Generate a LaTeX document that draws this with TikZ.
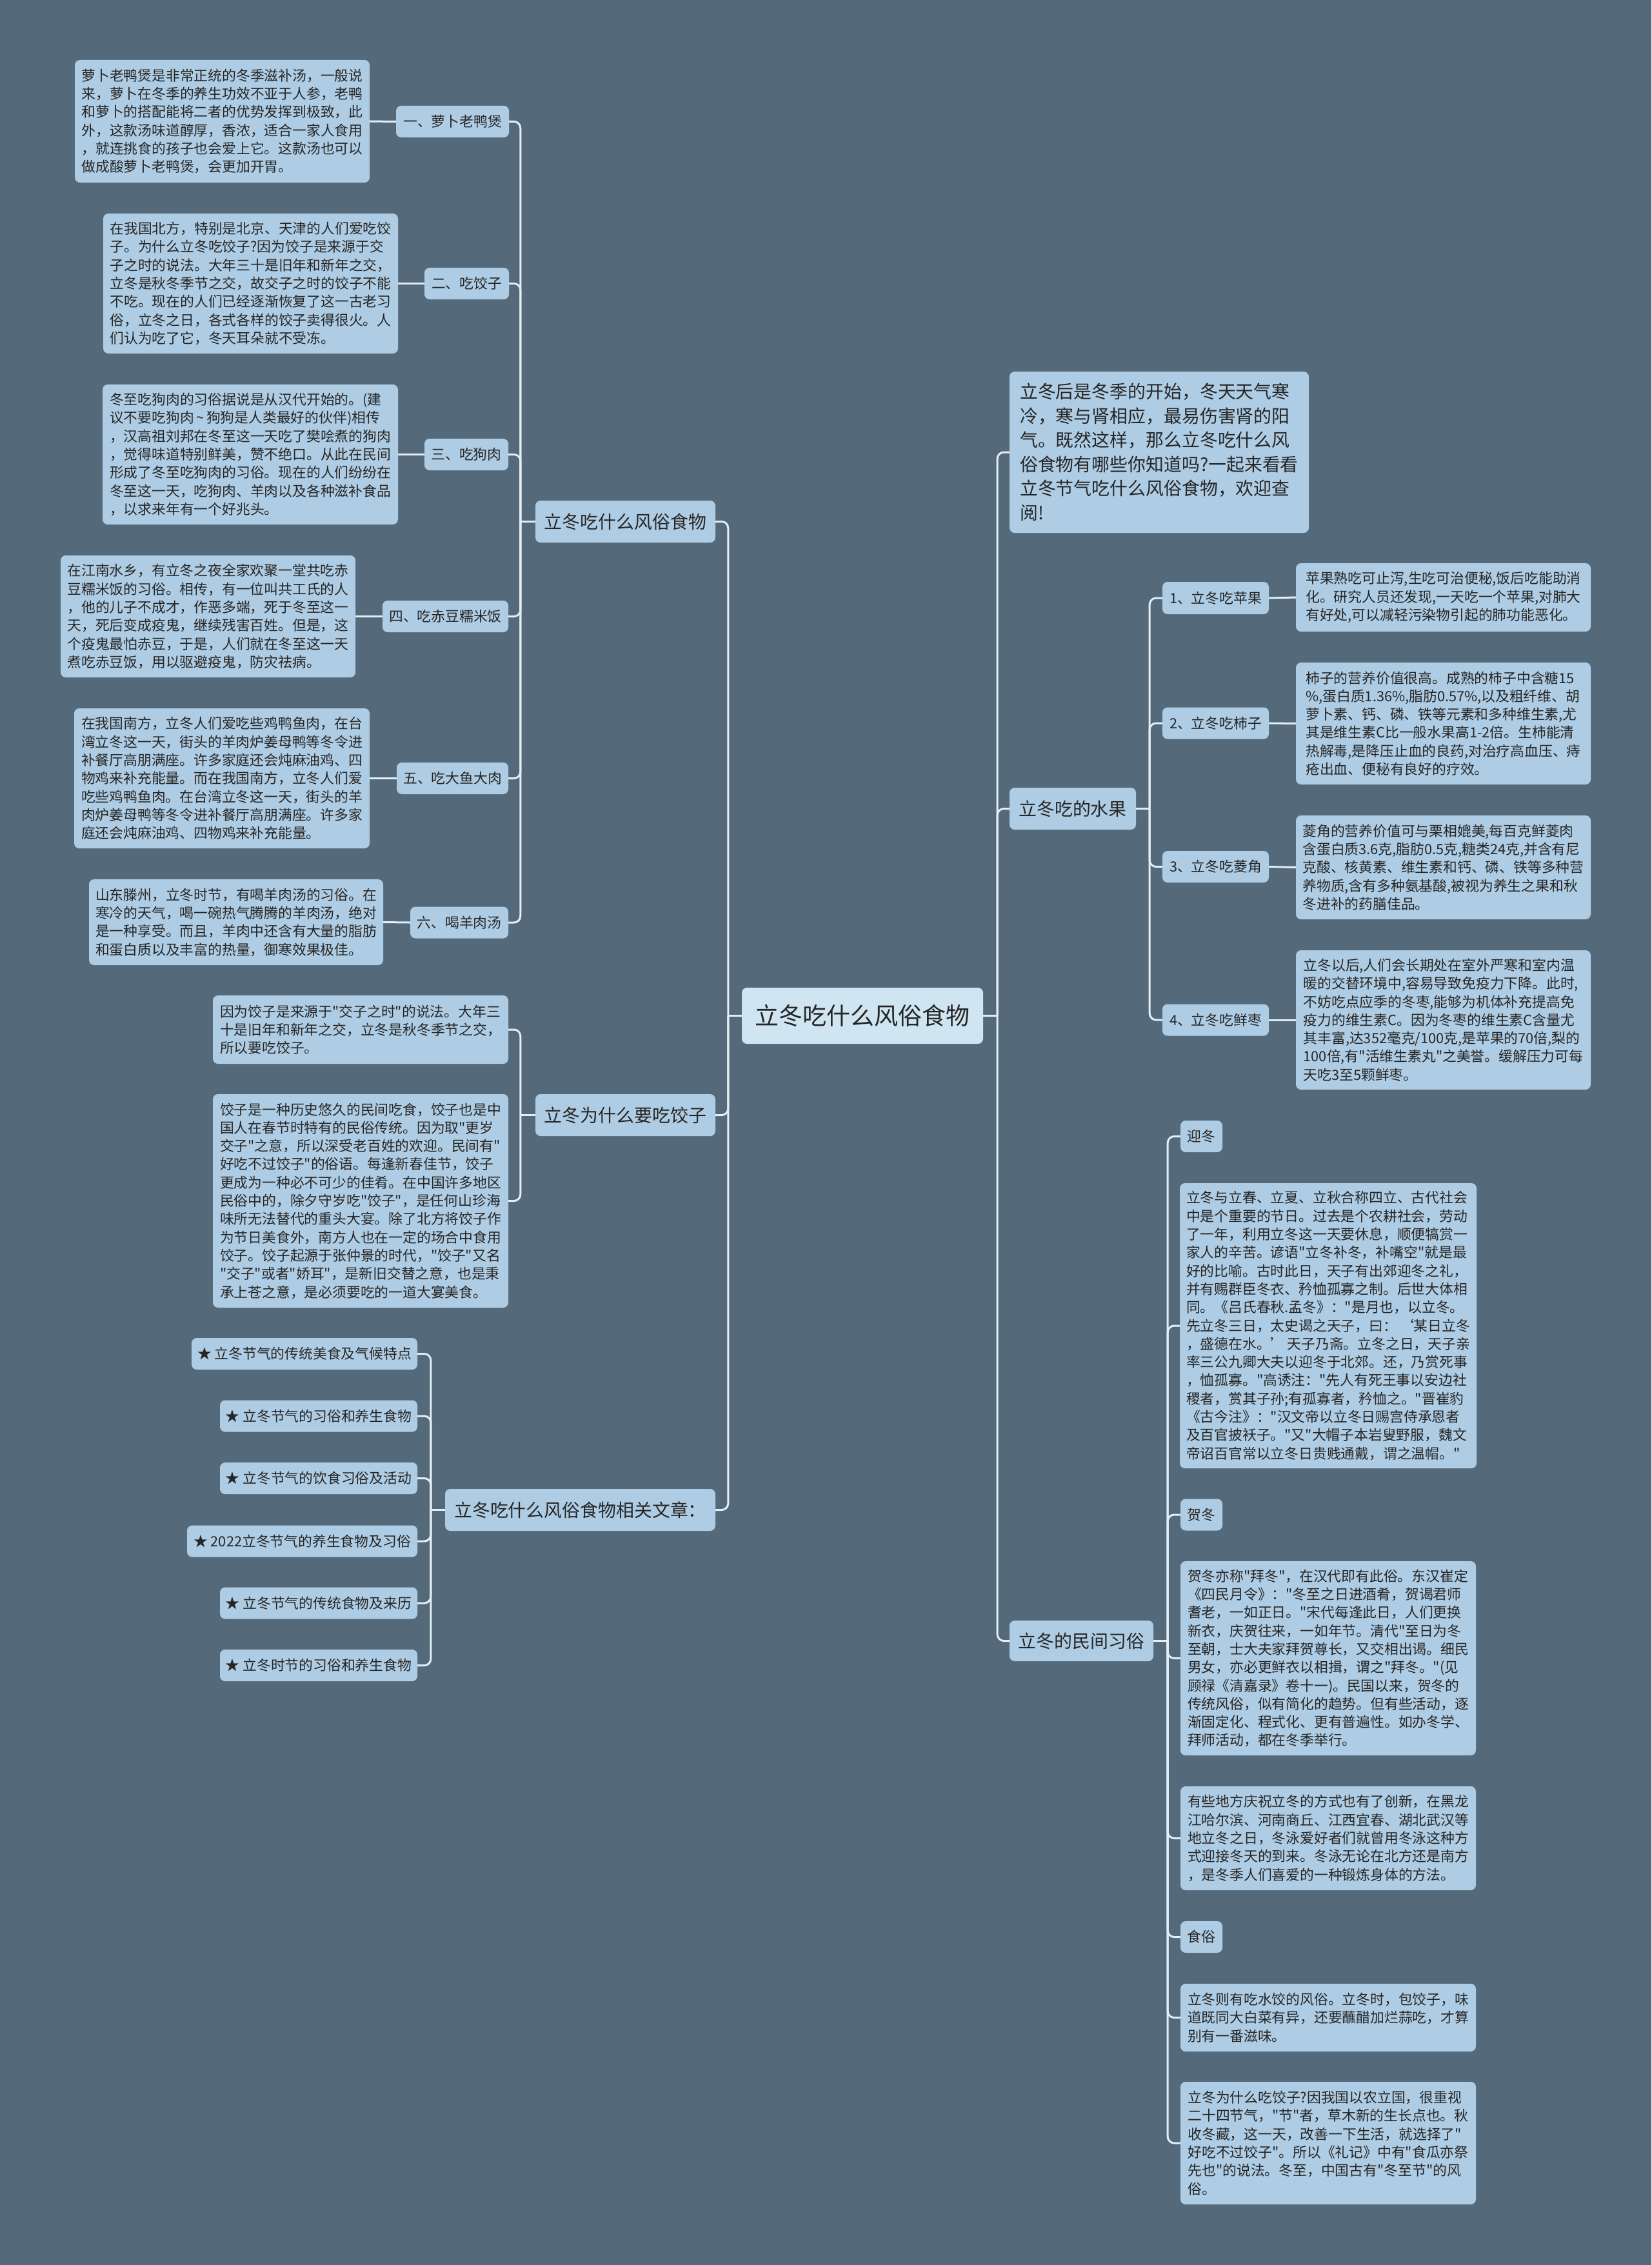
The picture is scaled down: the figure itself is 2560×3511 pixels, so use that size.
\documentclass[tikz,border=0pt]{standalone}
\usepackage{fontspec}
\setmainfont{Noto Sans CJK SC}[Ligatures=TeXOff]
\definecolor{bgc}{HTML}{546A7B}
\definecolor{boxc}{HTML}{AECCE3}
\definecolor{rootc}{HTML}{CFE5F2}
\definecolor{linec}{HTML}{E3EEF5}
\definecolor{txtc}{HTML}{262626}
\newcommand\mmS{\fontsize{21.8}{28.3}\selectfont}
\newcommand\mmM{\fontsize{27.9}{37.5}\selectfont}
\newcommand\mmL{\fontsize{37}{44}\selectfont}
\begin{document}
\begin{tikzpicture}[x=1pt,y=-1pt,
 tb/.style={fill=boxc, rounded corners=8pt, text=txtc, font=\mmS, align=left, inner xsep=10pt, inner ysep=4pt},
 lb/.style={fill=boxc, rounded corners=8pt, text=txtc, font=\mmS, inner sep=0pt, minimum height=49pt},
 br/.style={fill=boxc, rounded corners=8pt, text=txtc, font=\mmM, inner sep=0pt, minimum height=65pt},
 rt/.style={fill=rootc, rounded corners=8pt, text=txtc, font=\mmL, inner sep=0pt, minimum width=374pt, minimum height=87pt},
 cn/.style={draw=linec, line width=3pt, rounded corners=10pt}]
\fill[bgc] (0,0) rectangle (2560,3511);
\useasboundingbox (0,0) rectangle (2560,3511);

% root
\node[rt] (root) at (1337,1574.5) {立冬吃什么风俗食物};

% left branch 1
\node[br, minimum width=279pt] (bl1) at (969.5,808.5) {立冬吃什么风俗食物};
\node[lb, minimum width=175pt] (l1) at (701.5,188.5) {一、萝卜老鸭煲};
\node[lb, minimum width=131pt] (l2) at (723.5,439.5) {二、吃饺子};
\node[lb, minimum width=130pt] (l3) at (723,704.5) {三、吃狗肉};
\node[lb, minimum width=195pt] (l4) at (690.5,955.5) {四、吃赤豆糯米饭};
\node[lb, minimum width=173pt] (l5) at (701.5,1206.5) {五、吃大鱼大肉};
\node[lb, minimum width=152pt] (l6) at (712,1430) {六、喝羊肉汤};

\node[tb, minimum width=457pt, minimum height=190pt] (t1) at (344.5,188) {萝卜老鸭煲是非常正统的冬季滋补汤，一般说\\来，萝卜在冬季的养生功效不亚于人参，老鸭\\和萝卜的搭配能将二者的优势发挥到极致，此\\外，这款汤味道醇厚，香浓，适合一家人食用\\，就连挑食的孩子也会爱上它。这款汤也可以\\做成酸萝卜老鸭煲，会更加开胃。};
\node[tb, minimum width=457pt, minimum height=217pt] (t2) at (388.5,439.5) {在我国北方，特别是北京、天津的人们爱吃饺\\子。为什么立冬吃饺子?因为饺子是来源于交\\子之时的说法。大年三十是旧年和新年之交，\\立冬是秋冬季节之交，故交子之时的饺子不能\\不吃。现在的人们已经逐渐恢复了这一古老习\\俗，立冬之日，各式各样的饺子卖得很火。人\\们认为吃了它，冬天耳朵就不受冻。};
\node[tb, minimum width=458pt, minimum height=217pt] (t3) at (388,704.5) {冬至吃狗肉的习俗据说是从汉代开始的。(建\\议不要吃狗肉\,\textasciitilde\,狗狗是人类最好的伙伴)相传\\，汉高祖刘邦在冬至这一天吃了樊哙煮的狗肉\\，觉得味道特别鲜美，赞不绝口。从此在民间\\形成了冬至吃狗肉的习俗。现在的人们纷纷在\\冬至这一天，吃狗肉、羊肉以及各种滋补食品\\，以求来年有一个好兆头。};
\node[tb, minimum width=457pt, minimum height=189pt] (t4) at (322.5,955.5) {在江南水乡，有立冬之夜全家欢聚一堂共吃赤\\豆糯米饭的习俗。相传，有一位叫共工氏的人\\，他的儿子不成才，作恶多端，死于冬至这一\\天，死后变成疫鬼，继续残害百姓。但是，这\\个疫鬼最怕赤豆，于是，人们就在冬至这一天\\煮吃赤豆饭，用以驱避疫鬼，防灾祛病。};
\node[tb, minimum width=458pt, minimum height=217pt] (t5) at (344,1206.5) {在我国南方，立冬人们爱吃些鸡鸭鱼肉，在台\\湾立冬这一天，街头的羊肉炉姜母鸭等冬令进\\补餐厅高朋满座。许多家庭还会炖麻油鸡、四\\物鸡来补充能量。而在我国南方，立冬人们爱\\吃些鸡鸭鱼肉。在台湾立冬这一天，街头的羊\\肉炉姜母鸭等冬令进补餐厅高朋满座。许多家\\庭还会炖麻油鸡、四物鸡来补充能量。};
\node[tb, minimum width=456pt, minimum height=133pt] (t6) at (366,1429.5) {山东滕州，立冬时节，有喝羊肉汤的习俗。在\\寒冷的天气，喝一碗热气腾腾的羊肉汤，绝对\\是一种享受。而且，羊肉中还含有大量的脂肪\\和蛋白质以及丰富的热量，御寒效果极佳。};

% left branch 2
\node[br, minimum width=279pt] (bl2) at (969.5,1728.5) {立冬为什么要吃饺子};
\node[tb, minimum width=458pt, minimum height=106pt] (b1) at (559,1596) {因为饺子是来源于"交子之时"的说法。大年三\\十是旧年和新年之交，立冬是秋冬季节之交，\\所以要吃饺子。};
\node[tb, minimum width=458pt, minimum height=331pt] (b2) at (559,1861.5) {饺子是一种历史悠久的民间吃食，饺子也是中\\国人在春节时特有的民俗传统。因为取"更岁\\交子"之意，所以深受老百姓的欢迎。民间有"\\好吃不过饺子"的俗语。每逢新春佳节，饺子\\更成为一种必不可少的佳肴。在中国许多地区\\民俗中的，除夕守岁吃"饺子"，是任何山珍海\\味所无法替代的重头大宴。除了北方将饺子作\\为节日美食外，南方人也在一定的场合中食用\\饺子。饺子起源于张仲景的时代，"饺子"又名\\"交子"或者"娇耳"，是新旧交替之意，也是秉\\承上苍之意，是必须要吃的一道大宴美食。};

% left branch 3
\node[br, minimum width=419pt] (bl3) at (899.5,2340.5) {立冬吃什么风俗食物相关文章：};
\node[lb, minimum width=350pt] (s1) at (472,2098.5) {★ 立冬节气的传统美食及气候特点};
\node[lb, minimum width=306pt] (s2) at (494,2195) {★ 立冬节气的习俗和养生食物};
\node[lb, minimum width=306pt] (s3) at (494,2291.5) {★ 立冬节气的饮食习俗及活动};
\node[lb, minimum width=357pt] (s4) at (468.5,2389) {★ 2022立冬节气的养生食物及习俗};
\node[lb, minimum width=306pt] (s5) at (494,2485) {★ 立冬节气的传统食物及来历};
\node[lb, minimum width=306pt] (s6) at (494,2581.5) {★ 立冬时节的习俗和养生食物};

% right side
\node[tb, font=\mmM, inner xsep=14pt, minimum width=464pt, minimum height=250pt] (intro) at (1797,701) {立冬后是冬季的开始，冬天天气寒\\冷，寒与肾相应，最易伤害肾的阳\\气。既然这样，那么立冬吃什么风\\俗食物有哪些你知道吗?一起来看看\\立冬节气吃什么风俗食物，欢迎查\\阅!};
\node[br, minimum width=196pt] (br1) at (1663,1253.5) {立冬吃的水果};
\node[br, minimum width=223pt, minimum height=63pt] (br2) at (1676.5,2543.5) {立冬的民间习俗};

\node[lb, minimum width=165pt, minimum height=50pt] (f1) at (1884.5,927) {1、立冬吃苹果};
\node[lb, minimum width=165pt] (f2) at (1884.5,1121) {2、立冬吃柿子};
\node[lb, minimum width=165pt] (f3) at (1884.5,1343.5) {3、立冬吃菱角};
\node[lb, minimum width=165pt] (f4) at (1884.5,1581) {4、立冬吃鲜枣};

\node[tb, minimum width=457pt, minimum height=106pt] (ft1) at (2237.5,926) {苹果熟吃可止泻,生吃可治便秘,饭后吃能助消\\化。研究人员还发现,一天吃一个苹果,对肺大\\有好处,可以减轻污染物引起的肺功能恶化。};
\node[tb, minimum width=457pt, minimum height=189pt] (ft2) at (2237.5,1121.5) {柿子的营养价值很高。成熟的柿子中含糖15\\\%,蛋白质1.36\%,脂肪0.57\%,以及粗纤维、胡\\萝卜素、钙、磷、铁等元素和多种维生素,尤\\其是维生素C比一般水果高1-2倍。生柿能清\\热解毒,是降压止血的良药,对治疗高血压、痔\\疮出血、便秘有良好的疗效。};
\node[tb, minimum width=457pt, minimum height=161pt] (ft3) at (2237.5,1344.5) {菱角的营养价值可与栗相媲美,每百克鲜菱肉\\含蛋白质3.6克,脂肪0.5克,糖类24克,并含有尼\\克酸、核黄素、维生素和钙、磷、铁等多种营\\养物质,含有多种氨基酸,被视为养生之果和秋\\冬进补的药膳佳品。};
\node[tb, minimum width=457pt, minimum height=216pt] (ft4) at (2237.5,1581) {立冬以后,人们会长期处在室外严寒和室内温\\暖的交替环境中,容易导致免疫力下降。此时,\\不妨吃点应季的冬枣,能够为机体补充提高免\\疫力的维生素C。因为冬枣的维生素C含量尤\\其丰富,达352毫克/100克,是苹果的70倍,梨的\\100倍,有"活维生素丸"之美誉。缓解压力可每\\天吃3至5颗鲜枣。};

\node[lb, minimum width=65pt] (c1) at (1862.5,1761.5) {迎冬};
\node[tb, minimum width=458pt, minimum height=442pt] (ct1) at (2059,2055) {立冬与立春、立夏、立秋合称四立、古代社会\\中是个重要的节日。过去是个农耕社会，劳动\\了一年，利用立冬这一天要休息，顺便犒赏一\\家人的辛苦。谚语"立冬补冬，补嘴空"就是最\\好的比喻。古时此日，天子有出郊迎冬之礼，\\并有赐群臣冬衣、矜恤孤寡之制。后世大体相\\同。《吕氏春秋.孟冬》："是月也，以立冬。\\先立冬三日，太史谒之天子，曰：\hspace{4pt}‘某日立冬\\，盛德在水。’\hspace{4pt}天子乃斋。立冬之日，天子亲\\率三公九卿大夫以迎冬于北郊。还，乃赏死事\\，恤孤寡。"高诱注："先人有死王事以安边社\\稷者，赏其子孙;有孤寡者，矜恤之。"晋崔豹\\《古今注》："汉文帝以立冬日赐宫侍承恩者\\及百官披袄子。"又"大帽子本岩叟野服，魏文\\帝诏百官常以立冬日贵贱通戴，谓之温帽。"};
\node[lb, minimum width=65pt] (c2) at (1862.5,2348) {贺冬};
\node[tb, minimum width=458pt, minimum height=301pt] (ct2) at (2059,2570.5) {贺冬亦称"拜冬"，在汉代即有此俗。东汉崔定\\《四民月令》："冬至之日进酒肴，贺谒君师\\耆老，一如正日。"宋代每逢此日，人们更换\\新衣，庆贺往来，一如年节。清代"至日为冬\\至朝，士大夫家拜贺尊长，又交相出谒。细民\\男女，亦必更鲜衣以相揖，谓之"拜冬。"(见\\顾禄《清嘉录》卷十一)。民国以来，贺冬的\\传统风俗，似有简化的趋势。但有些活动，逐\\渐固定化、程式化、更有普遍性。如办冬学、\\拜师活动，都在冬季举行。};
\node[tb, minimum width=458pt, minimum height=161pt] (ct3) at (2059,2849.5) {有些地方庆祝立冬的方式也有了创新，在黑龙\\江哈尔滨、河南商丘、江西宜春、湖北武汉等\\地立冬之日，冬泳爱好者们就曾用冬泳这种方\\式迎接冬天的到来。冬泳无论在北方还是南方\\，是冬季人们喜爱的一种锻炼身体的方法。};
\node[lb, minimum width=65pt] (c3) at (1862.5,3002.5) {食俗};
\node[tb, minimum width=458pt, minimum height=105pt] (ct4) at (2059,3127.5) {立冬则有吃水饺的风俗。立冬时，包饺子，味\\道既同大白菜有异，还要蘸醋加烂蒜吃，才算\\别有一番滋味。};
\node[tb, minimum width=458pt, minimum height=190pt] (ct5) at (2059,3322) {立冬为什么吃饺子?因我国以农立国，很重视\\二十四节气，"节"者，草木新的生长点也。秋\\收冬藏，这一天，改善一下生活，就选择了"\\好吃不过饺子"。所以《礼记》中有"食瓜亦祭\\先也"的说法。冬至，中国古有"冬至节"的风\\俗。};

% connectors
\foreach \n in {l1,l2,l3,l4,l5,l6} \draw[cn] (\n.east) -| ([xshift=-23pt]bl1.west);
\draw[cn] (bl1.west) -- ([xshift=-23pt]bl1.west);
\foreach \a/\b in {t1/l1,t2/l2,t3/l3,t4/l4,t5/l5,t6/l6} \draw[cn] (\a.east) -- (\b.west);
\foreach \n in {b1,b2} \draw[cn] (\n.east) -| ([xshift=-23pt]bl2.west);
\draw[cn] (bl2.west) -- ([xshift=-23pt]bl2.west);
\foreach \n in {s1,s2,s3,s4,s5,s6} \draw[cn] (\n.east) -| ([xshift=-22pt]bl3.west);
\draw[cn] (bl3.west) -- ([xshift=-22pt]bl3.west);
\foreach \n in {bl1,bl2,bl3} \draw[cn] (\n.east) -| ([xshift=-21pt]root.west);
\draw[cn] (root.west) -- ([xshift=-21pt]root.west);
\foreach \n in {intro,br1,br2} \draw[cn] (\n.west) -| ([xshift=22pt]root.east);
\draw[cn] (root.east) -- ([xshift=22pt]root.east);
\foreach \n in {f1,f2,f3,f4} \draw[cn] (\n.west) -| ([xshift=21pt]br1.east);
\draw[cn] (br1.east) -- ([xshift=21pt]br1.east);
\foreach \a/\b in {f1/ft1,f2/ft2,f3/ft3,f4/ft4} \draw[cn] (\a.east) -- (\b.west);
\foreach \n in {c1,ct1,c2,ct2,ct3,c3,ct4,ct5} \draw[cn] (\n.west) -| ([xshift=22pt]br2.east);
\draw[cn] (br2.east) -- ([xshift=22pt]br2.east);
\end{tikzpicture}
\end{document}
